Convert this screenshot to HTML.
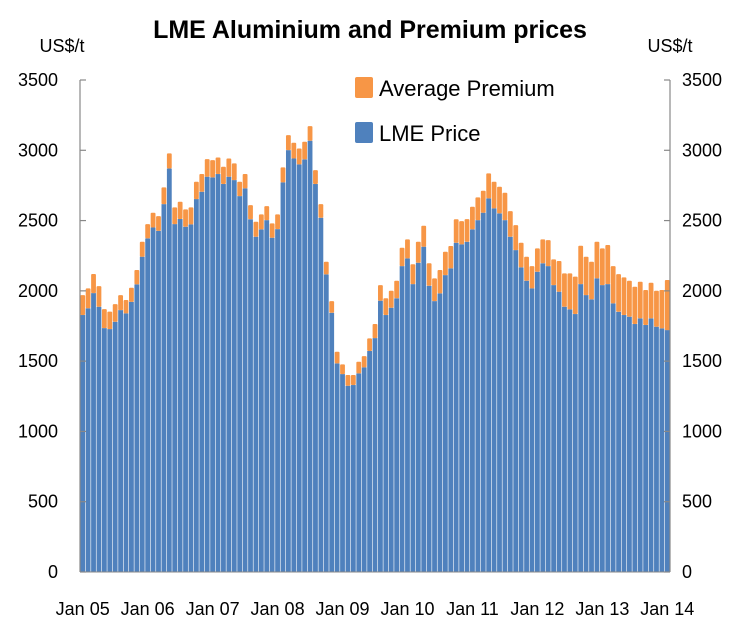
<!DOCTYPE html>
<html><head><meta charset="utf-8"><style>
html,body{margin:0;padding:0;background:#fff;}
svg{display:block;font-family:"Liberation Sans",sans-serif;}
</style></head><body>
<svg id="chart" width="752" height="641" viewBox="0 0 752 641">
<text x="370" y="38" text-anchor="middle" font-size="25" font-weight="bold" fill="#000">LME Aluminium and Premium prices</text>
<text x="62" y="52" text-anchor="middle" font-size="18" fill="#000">US$/t</text>
<text x="670" y="52" text-anchor="middle" font-size="18" fill="#000">US$/t</text>
<g id="bars"></g>
<g id="axes"></g>
<g>
<rect x="355" y="77" width="18" height="21" rx="2" fill="#F79646"/>
<text x="379" y="96" font-size="22" fill="#000">Average Premium</text>
<rect x="355" y="122" width="18" height="21" rx="2" fill="#4F81BD"/>
<text x="379" y="141" font-size="22" fill="#000">LME Price</text>
</g>
</svg>
<script>
const lme = [1828,1876,1984,1887,1735,1728,1780,1863,1840,1922,2046,2243,2373,2451,2427,2617,2870,2475,2511,2456,2473,2653,2705,2812,2807,2831,2760,2812,2788,2674,2729,2509,2385,2437,2503,2378,2439,2772,3001,2942,2900,2935,3068,2760,2520,2117,1844,1484,1408,1325,1330,1413,1456,1572,1664,1930,1828,1880,1947,2176,2231,2048,2200,2314,2036,1927,1982,2112,2160,2342,2331,2349,2437,2503,2556,2658,2587,2551,2503,2385,2290,2167,2072,2018,2136,2196,2176,2041,1994,1887,1868,1835,2048,1970,1939,2089,2041,2048,1911,1851,1828,1816,1764,1804,1757,1804,1745,1733,1721];
const premium = [142,142,136,147,135,124,126,107,95,100,102,106,102,105,105,119,108,119,123,124,121,123,126,125,123,118,123,130,119,102,102,101,107,107,100,102,105,106,107,112,113,126,104,99,97,90,83,83,69,76,71,83,80,90,100,111,119,121,125,131,135,141,149,149,160,162,166,166,159,167,165,161,161,162,156,178,189,190,195,182,178,175,171,158,166,170,185,183,218,237,256,266,273,273,268,260,261,278,265,268,268,256,265,261,249,254,256,273,356];
const xLabels = ["Jan 05","Jan 06","Jan 07","Jan 08","Jan 09","Jan 10","Jan 11","Jan 12","Jan 13","Jan 14"];
const yTicks = [0,500,1000,1500,2000,2500,3000,3500];

const NS="http://www.w3.org/2000/svg";
const X0=80, X1=670, Y0=572, Y1=80, YMAX=3500;
const n=lme.length, bw=(X1-X0)/n;
const xs=i=>X0+i*bw;
const ys=v=>Y0-(v/YMAX)*(Y0-Y1);
function mk(tag,attrs,parent){const e=document.createElementNS(NS,tag);for(const k in attrs)e.setAttribute(k,attrs[k]);parent.appendChild(e);return e;}
const bars=document.getElementById('bars');
const axes=document.getElementById('axes');
for(let i=0;i<n;i++){
  const tot=lme[i]+premium[i];
  const b=mk('rect',{x:xs(i)+0.3,y:ys(lme[i]),width:bw-0.6,height:Y0-ys(lme[i]),fill:'#4F81BD'},bars);
  
  
  const p=mk('rect',{x:xs(i)+0.3,y:ys(tot),width:bw-0.6,height:ys(lme[i])-ys(tot),fill:'#F79646',rx:1},bars);
  
  
}
mk('line',{x1:X0,y1:Y1,x2:X0,y2:Y0,stroke:'#888','stroke-width':1.2},axes);
mk('line',{x1:X1,y1:Y1,x2:X1,y2:Y0,stroke:'#888','stroke-width':1.2},axes);
mk('line',{x1:X0,y1:Y0,x2:X1,y2:Y0,stroke:'#888','stroke-width':1},axes);
yTicks.forEach(v=>{
  const y=ys(v);
  mk('line',{x1:X0,y1:y,x2:X0+6,y2:y,stroke:'#888','stroke-width':1.2},axes);
  mk('line',{x1:X1-6,y1:y,x2:X1,y2:y,stroke:'#888','stroke-width':1.2},axes);
  const t=mk('text',{x:X0-22,y:y+6,'text-anchor':'end','font-size':18,fill:'#000'},axes);
  t.textContent=v;
  
  
  const r=mk('text',{x:X1+12,y:y+6,'text-anchor':'start','font-size':18,fill:'#000'},axes);
  r.textContent=v;
  
  
});
xLabels.forEach((l,k)=>{
  const cx=xs(k*12)+bw/2;
  const t=mk('text',{x:cx,y:615,'text-anchor':'middle','font-size':18,fill:'#000'},axes);
  t.textContent=l;
  
  
});
</script>
</body></html>
